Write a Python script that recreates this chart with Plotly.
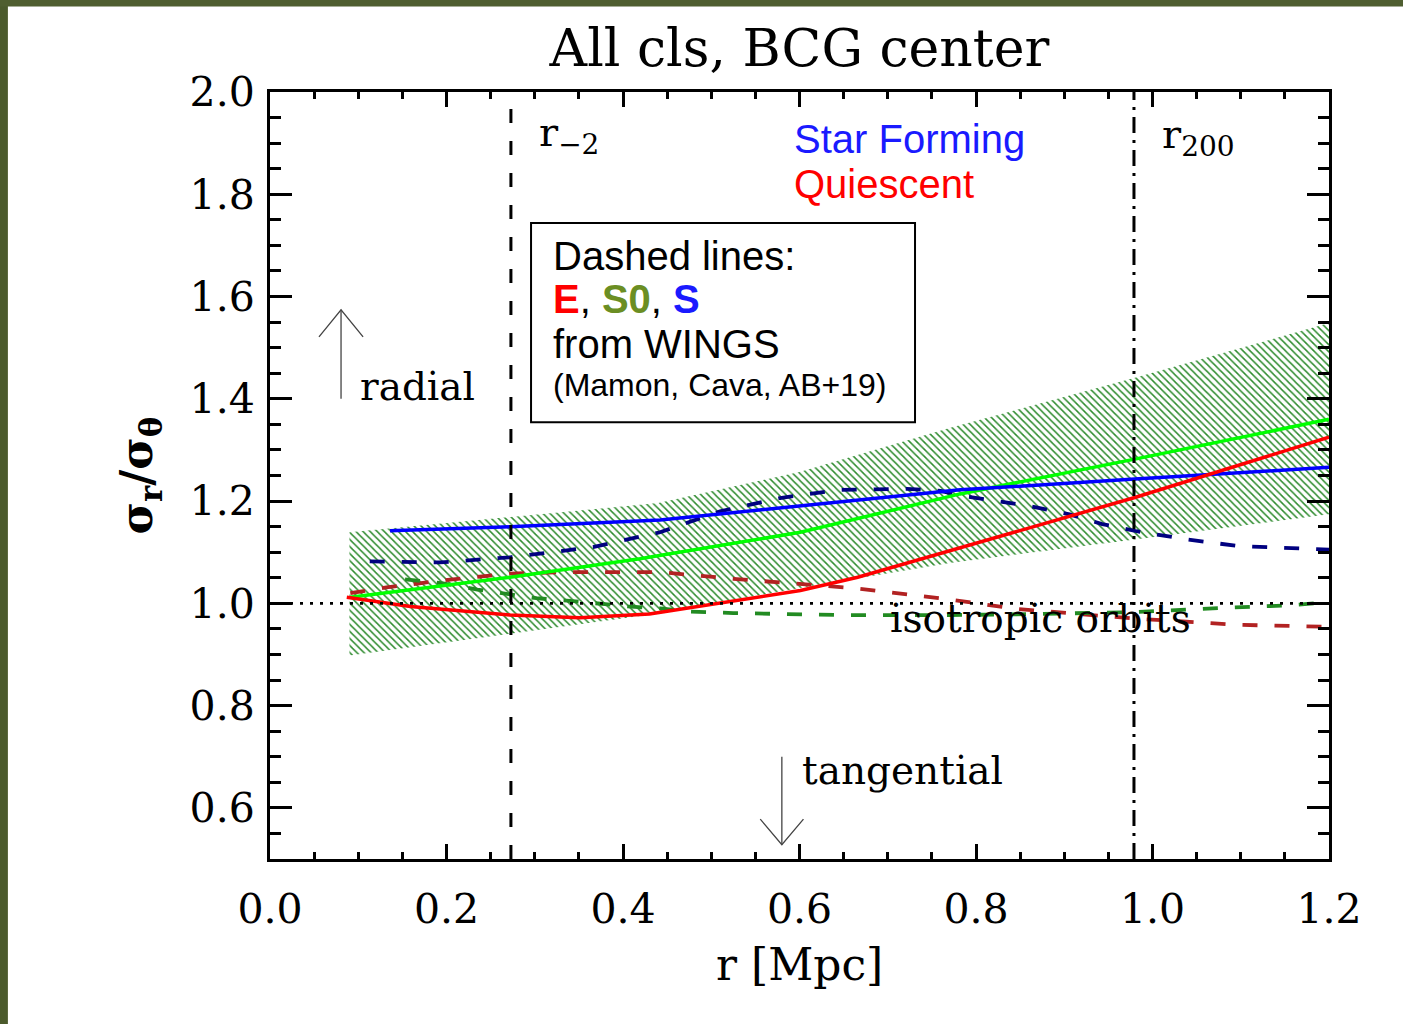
import plotly.graph_objects as go

# ---------------- data ----------------
# hatched band (green)
band_x = [0.09, 0.272, 0.44, 0.60, 0.77, 0.98, 1.20]
band_top = [1.139, 1.168, 1.196, 1.257, 1.343, 1.441, 1.548]
band_bot = [0.898, 0.940, 0.980, 1.030, 1.079, 1.125, 1.174]

# solid lines
green_x = [0.091, 0.272, 0.419, 0.601, 0.782, 0.98, 1.20]
green_y = [1.012, 1.051, 1.087, 1.139, 1.214, 1.282, 1.360]

blue_x = [0.136, 0.272, 0.442, 0.601, 0.782, 0.98, 1.20]
blue_y = [1.142, 1.150, 1.163, 1.191, 1.222, 1.243, 1.266]

red_x = [0.087, 0.159, 0.272, 0.351, 0.43, 0.51, 0.601, 0.666, 0.782, 0.98, 1.20]
red_y = [1.012, 0.994, 0.977, 0.972, 0.979, 1.000, 1.025, 1.051, 1.109, 1.207, 1.325]

# dashed lines (WINGS)
s_x = [0.113, 0.193, 0.272, 0.366, 0.442, 0.51, 0.578, 0.646, 0.722, 0.76,
       0.782, 0.859, 0.906, 0.943, 0.982, 1.039, 1.097, 1.20]
s_y = [1.082, 1.080, 1.090, 1.110, 1.139, 1.180, 1.206, 1.222, 1.224, 1.220,
       1.211, 1.191, 1.174, 1.155, 1.141, 1.125, 1.112, 1.105]

e_x = [0.091, 0.132, 0.196, 0.272, 0.329, 0.442, 0.525, 0.593, 0.666, 0.759,
       0.847, 0.981, 1.097, 1.20]
e_y = [1.020, 1.031, 1.045, 1.058, 1.061, 1.061, 1.048, 1.039, 1.029, 1.010,
       0.989, 0.970, 0.958, 0.954]

s0_x = [0.153, 0.196, 0.235, 0.272, 0.302, 0.34, 0.405, 0.442, 0.476, 0.525,
        0.586, 0.646, 0.722, 0.77, 0.867, 0.981, 1.077, 1.154, 1.20]
s0_y = [1.047, 1.039, 1.027, 1.017, 1.010, 1.005, 0.994, 0.990, 0.984, 0.981,
        0.979, 0.977, 0.977, 0.977, 0.979, 0.983, 0.991, 0.996, 1.002]

# reference radii
r_m2 = 0.273
r_200 = 0.979
iso_level = 1.0

# arrows (radial / tangential)
radial_arrow = dict(x=0.0805, y0=1.40, y1=1.574, hx=0.025, hy=0.053)
tang_arrow = dict(x=0.580, y0=0.70, y1=0.528, hx=0.0245, hy=0.050)

x_ticks = [0.0, 0.2, 0.4, 0.6, 0.8, 1.0, 1.2]
x_ticklabels = ["0.0", "0.2", "0.4", "0.6", "0.8", "1.0", "1.2"]
y_ticks = [0.6, 0.8, 1.0, 1.2, 1.4, 1.6, 1.8, 2.0]
y_ticklabels = ["0.6", "0.8", "1.0", "1.2", "1.4", "1.6", "1.8", "2.0"]

SERIF = "DejaVu Serif"
SANS = "Liberation Sans, Arial"

fig = go.Figure()

# band
fig.add_trace(go.Scatter(x=band_x, y=band_bot, mode="lines", line=dict(width=0),
                         showlegend=False, hoverinfo="skip"))
fig.add_trace(go.Scatter(x=band_x, y=band_top, mode="lines", line=dict(width=0),
                         fill="tonexty", fillcolor="rgba(0,0,0,0)",
                         fillpattern=dict(shape="\\", fgcolor="#2e8b2e", bgcolor="rgba(0,0,0,0)",
                                          size=5, solidity=0.3, fillmode="replace"),
                         showlegend=False, hoverinfo="skip"))

dash_style = "15px,17px"
fig.add_trace(go.Scatter(x=s_x, y=s_y, mode="lines",
                         line=dict(color="#000080", width=3.8, dash=dash_style), showlegend=False))
fig.add_trace(go.Scatter(x=e_x, y=e_y, mode="lines",
                         line=dict(color="#b22222", width=3.8, dash=dash_style), showlegend=False))
fig.add_trace(go.Scatter(x=s0_x, y=s0_y, mode="lines",
                         line=dict(color="#228b22", width=3.8, dash=dash_style), showlegend=False))

fig.add_trace(go.Scatter(x=green_x, y=green_y, mode="lines",
                         line=dict(color="#00ff00", width=3.5), showlegend=False))
fig.add_trace(go.Scatter(x=blue_x, y=blue_y, mode="lines",
                         line=dict(color="#0000ff", width=3.5), showlegend=False))
fig.add_trace(go.Scatter(x=red_x, y=red_y, mode="lines",
                         line=dict(color="#ff0000", width=3.5), showlegend=False))

# arrows
for a, sgn in ((radial_arrow, 1), (tang_arrow, -1)):
    tip = a["y1"]
    hy = tip - sgn * a["hy"]
    fig.add_trace(go.Scatter(
        x=[a["x"], a["x"], None, a["x"] - a["hx"], a["x"], a["x"] + a["hx"]],
        y=[a["y0"], tip, None, hy, tip, hy],
        mode="lines", line=dict(color="#444444", width=1.3),
        showlegend=False, hoverinfo="skip"))

shapes = [
    dict(type="line", xref="x", yref="y", x0=0, x1=1.2, y0=iso_level, y1=iso_level,
         line=dict(color="black", width=2.8, dash="3px,7px"), layer="above"),
    dict(type="line", xref="x", yref="y", x0=r_m2, x1=r_m2, y0=0.5, y1=2.0,
         line=dict(color="black", width=3, dash="14px,18px"), layer="above"),
    dict(type="line", xref="x", yref="y", x0=r_200, x1=r_200, y0=0.5, y1=2.0,
         line=dict(color="black", width=3, dash="16px,7px,3px,7px"), layer="above"),
    dict(type="rect", xref="x", yref="y", x0=0.2958, x1=0.7309, y0=1.354, y1=1.744,
         line=dict(color="black", width=2), fillcolor="white", layer="above"),
    # photo border strips
    dict(type="rect", xref="paper", yref="paper", x0=-0.256, x1=-0.2475, y0=-0.22, y1=1.13,
         line=dict(width=0), fillcolor="#4b5a2c", layer="above"),
    dict(type="rect", xref="paper", yref="paper", x0=-0.256, x1=1.08, y0=1.1115, y1=1.13,
         line=dict(width=0), fillcolor="#4f5e30", layer="above"),
]

ann = []
def A(text, x, y, size, family=SERIF, color="black", xanchor="left", **kw):
    ann.append(dict(text=text, x=x, y=y, xref="x", yref="y", showarrow=False,
                    xanchor=xanchor, yanchor="middle",
                    font=dict(family=family, size=size, color=color), **kw))

A("r<sub>−2</sub>", 0.3025, 1.916, 40)
A("r<sub>200</sub>", 1.0085, 1.912, 40)
A("Star Forming", 0.5915, 1.908, 40, family=SANS, color="#1a1aff")
A("Quiescent", 0.5915, 1.82, 40, family=SANS, color="#ff0000")
A("Dashed lines:", 0.3184, 1.679, 40, family=SANS)
A("<b><span style='color:#ff0000'>E</span></b>, <b><span style='color:#6b8e23'>S0</span></b>, "
  "<b><span style='color:#1a1aff'>S</span></b>", 0.3184, 1.595, 40, family=SANS)
A("from WINGS", 0.3184, 1.507, 40, family=SANS)
A("(Mamon, Cava, AB+19)", 0.3184, 1.427, 32, family=SANS)
A("radial", 0.0997, 1.425, 39)
A("tangential", 0.6006, 0.673, 39)
A("isotropic orbits", 0.700, 0.971, 39)

# axis titles
ann.append(dict(text="r [Mpc]", x=0.5, y=-0.138, xref="paper", yref="paper",
                showarrow=False, xanchor="center", yanchor="middle",
                font=dict(family=SERIF, size=44, color="black")))
ann.append(dict(text="<b>σ<sub>r</sub>/σ<sub>θ</sub></b>", x=-0.1228, y=0.5, xref="paper", yref="paper",
                showarrow=False, xanchor="center", yanchor="middle", textangle=-90,
                font=dict(family=SERIF, size=44, color="black")))

axis_common = dict(showline=True, linecolor="black", linewidth=3, mirror="ticks",
                   ticks="inside", tickcolor="black", tickwidth=3,
                   showgrid=False, zeroline=False,
                   tickfont=dict(family=SERIF, size=41, color="black"))

fig.update_layout(
    width=1403, height=1024,
    margin=dict(l=270, r=74, t=92, b=165, pad=0),
    paper_bgcolor="white", plot_bgcolor="white",
    title=dict(text="All cls, BCG center", x=0.5, xref="paper", y=1 - 48 / 1024,
               yref="container", xanchor="center", yanchor="middle",
               font=dict(family=SERIF, size=52, color="black")),
    xaxis=dict(range=[0, 1.2], tickvals=x_ticks, ticktext=x_ticklabels, ticklen=15,
               minor=dict(dtick=0.05, tick0=0, ticklen=7, tickwidth=2.5, ticks="inside",
                          tickcolor="black"),
               ticklabelstandoff=12, **axis_common),
    yaxis=dict(range=[0.5, 2.0], tickvals=y_ticks, ticktext=y_ticklabels, ticklen=22,
               minor=dict(dtick=0.05, tick0=0, ticklen=11, tickwidth=2.5, ticks="inside",
                          tickcolor="black"),
               ticklabelstandoff=4, **axis_common),
    shapes=shapes, annotations=ann, showlegend=False,
)

fig.write_html("out.html")
